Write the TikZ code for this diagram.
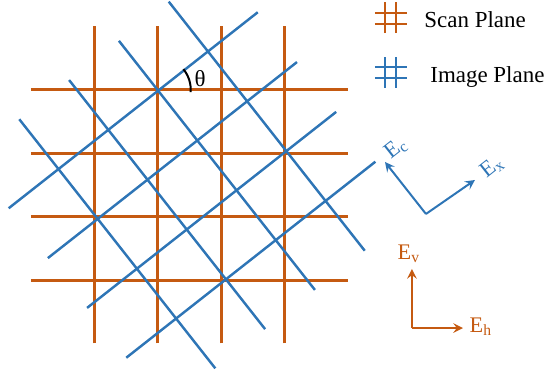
\documentclass[tikz,border=0pt]{standalone}
\usepackage{fontspec}
\setmainfont{Liberation Serif}
\definecolor{scanorange}{RGB}{197,90,17}
\definecolor{imgblue}{RGB}{46,117,182}

\begin{document}
\begin{tikzpicture}[>=stealth, scale=1.0,
  scanline/.style={scanorange, line width=1.3pt},
  imgline/.style={imgblue, line width=1.1pt},
  axisarrow/.style={->, line width=0.9pt},
  lbl/.style={inner sep=0pt, font=\fontsize{10.3}{12}\selectfont}]
  \useasboundingbox (-2.989,-2.997) rectangle (5.655,2.918);
  % scan plane grid
  \draw[scanline] (-1.5,-2.5) -- (-1.5,2.5);
  \draw[scanline] (-0.5,-2.5) -- (-0.5,2.5);
  \draw[scanline] (0.5,-2.5) -- (0.5,2.5);
  \draw[scanline] (1.5,-2.5) -- (1.5,2.5);
  \draw[scanline] (-2.5,-1.5) -- (2.5,-1.5);
  \draw[scanline] (-2.5,-0.5) -- (2.5,-0.5);
  \draw[scanline] (-2.5,0.5) -- (2.5,0.5);
  \draw[scanline] (-2.5,1.5) -- (2.5,1.5);
  % image plane grid, turned by theta
  \begin{scope}[shift={(0.04,0)}, rotate=38.2]
    \draw[imgline] (-1.5,-2.5) -- (-1.5,2.5);
    \draw[imgline] (-0.5,-2.5) -- (-0.5,2.5);
    \draw[imgline] (0.5,-2.5) -- (0.5,2.5);
    \draw[imgline] (1.5,-2.5) -- (1.5,2.5);
    \draw[imgline] (-2.5,-1.5) -- (2.5,-1.5);
    \draw[imgline] (-2.5,-0.5) -- (2.5,-0.5);
    \draw[imgline] (-2.5,0.5) -- (2.5,0.5);
    \draw[imgline] (-2.5,1.5) -- (2.5,1.5);
  \end{scope}
  % angle between the planes
  \coordinate (vtx) at (-0.5,1.5);
  \draw[line width=0.9pt] ([shift={(-4:0.52)}]vtx) arc[start angle=-4, end angle=39, radius=0.52];
  \node[lbl] (theta) at (0.166,1.672) {θ};
  % legend
  \draw[scanline] (3.084,2.397) -- (3.084,2.886);
  \draw[scanline] (3.257,2.397) -- (3.257,2.886);
  \draw[scanline] (2.926,2.539) -- (3.431,2.539);
  \draw[scanline] (2.926,2.713) -- (3.431,2.713);
  \node[lbl, anchor=base west] (scanlbl) at (3.699,2.480) {Scan Plane};
  \draw[imgline, line width=1.3pt] (3.084,1.530) -- (3.084,2.019);
  \draw[imgline, line width=1.3pt] (3.257,1.530) -- (3.257,2.019);
  \draw[imgline, line width=1.3pt] (2.926,1.688) -- (3.431,1.688);
  \draw[imgline, line width=1.3pt] (2.926,1.861) -- (3.431,1.861);
  \node[lbl, anchor=base west] (imglbl) at (3.793,1.614) {Image Plane};
  % image plane field axes
  \coordinate (bo) at (3.730,-0.457);
  \coordinate (ectip) at (3.084,0.363);
  \coordinate (extip) at (4.503,0.079);
  \draw[axisarrow, imgblue] (bo) -- (ectip);
  \draw[axisarrow, imgblue] (bo) -- (extip);
  \node[imgblue, rotate=38.2, inner sep=0pt] (ec) at (3.257,0.584) {E\textsubscript{c}};
  \node[imgblue, rotate=38.2, inner sep=0pt] (ex) at (4.771,0.284) {E\textsubscript{x}};
  % scan plane field axes
  \coordinate (so) at (3.509,-2.256);
  \coordinate (evtip) at (3.509,-1.325);
  \coordinate (ehtip) at (4.314,-2.256);
  \draw[axisarrow, scanorange] (so) -- (evtip);
  \draw[axisarrow, scanorange] (so) -- (ehtip);
  \node[scanorange, inner sep=0pt] (ev) at (3.462,-1.088) {E\textsubscript{v}};
  \node[scanorange, inner sep=0pt] (eh) at (4.598,-2.240) {E\textsubscript{h}};
\end{tikzpicture}
\end{document}
